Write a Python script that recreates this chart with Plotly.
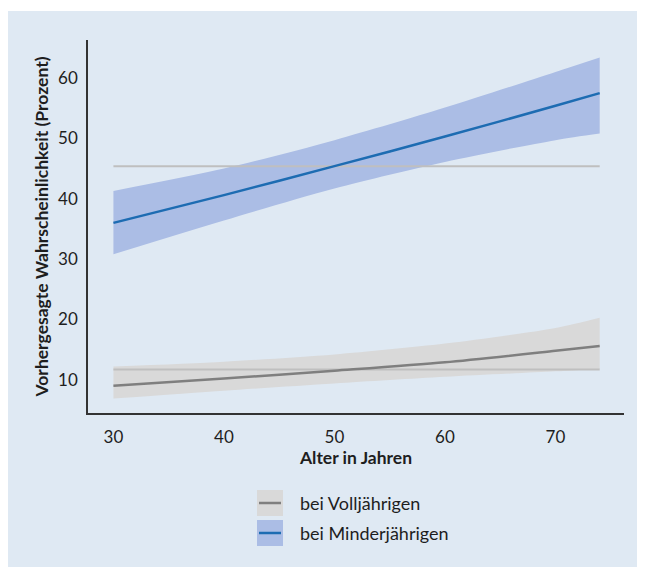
import plotly.graph_objects as go

# ---- data ----
age = [30, 40, 50, 60, 70, 74]

minor_fit = [36.0, 40.6, 45.4, 50.3, 55.4, 57.5]
minor_upper = [41.3, 45.0, 49.7, 55.1, 61.0, 63.4]
minor_lower = [30.8, 36.4, 41.7, 46.1, 49.7, 50.8]

adult_fit = [9.0, 10.2, 11.5, 12.9, 14.8, 15.6]
adult_upper = [12.2, 13.0, 14.2, 16.0, 18.6, 20.3]
adult_lower = [6.9, 8.2, 9.4, 10.5, 11.4, 11.8]

ref_minor = 45.4
ref_adult = 11.7

x_ticks = [30, 40, 50, 60, 70]
y_ticks = [10, 20, 30, 40, 50, 60]

legend_labels = ["bei Volljährigen", "bei Minderjährigen"]

# ---- styles ----
BG = "#dfe9f3"
BLUE_BAND = "#abbde5"
BLUE_LINE = "#1d6cb2"
GREY_BAND = "#d9d9d9"
GREY_LINE = "#7f7f7f"
REF_LINE = "#bfbfbf"
FONT = "Lato"
TXT = "#1e1e1e"

# page body has an 8px margin; size the figure so it fits the 645x571 window
OFF = 8
W, H = 645 - OFF, 571 - OFF
ML, MT = 88 - OFF, 40 - OFF
MR = W - (624 - OFF)
MB = H - (413 - OFF)
PW, PH = W - ML - MR, H - MT - MB


def px_x(p):
    return (p - OFF - ML) / PW


def px_y(p):
    return (H + OFF - MB - p) / PH


fig = go.Figure()

spl = dict(shape="spline", smoothing=0.8)

for lo, hi, col in [(adult_lower, adult_upper, GREY_BAND), (minor_lower, minor_upper, BLUE_BAND)]:
    fig.add_trace(go.Scatter(x=age, y=lo, mode="lines", line=dict(width=0, **spl),
                             showlegend=False, hoverinfo="skip"))
    fig.add_trace(go.Scatter(x=age, y=hi, mode="lines", line=dict(width=0, **spl),
                             fill="tonexty", fillcolor=col, showlegend=False, hoverinfo="skip"))

for ref in [ref_minor, ref_adult]:
    fig.add_trace(go.Scatter(x=[age[0], age[-1]], y=[ref, ref], mode="lines",
                             line=dict(color=REF_LINE, width=2), showlegend=False, hoverinfo="skip"))

fig.add_trace(go.Scatter(x=age, y=adult_fit, mode="lines", line=dict(color=GREY_LINE, width=2.5, **spl),
                         name=legend_labels[0], showlegend=False))
fig.add_trace(go.Scatter(x=age, y=minor_fit, mode="lines", line=dict(color=BLUE_LINE, width=2.5, **spl),
                         name=legend_labels[1], showlegend=False))

shapes = [
    # light blue panel
    dict(type="rect", xref="paper", yref="paper", layer="below",
         x0=px_x(7), x1=px_x(638), y0=px_y(567), y1=px_y(11),
         fillcolor=BG, line=dict(width=0)),
]
annotations = []
legend_items = [(GREY_BAND, GREY_LINE, 490, legend_labels[0]), (BLUE_BAND, BLUE_LINE, 520, legend_labels[1])]
for band, line, top, label in legend_items:
    shapes.append(dict(type="rect", xref="paper", yref="paper",
                       x0=px_x(257), x1=px_x(283), y0=px_y(top + 26), y1=px_y(top),
                       fillcolor=band, line=dict(width=0)))
    shapes.append(dict(type="line", xref="paper", yref="paper",
                       x0=px_x(259), x1=px_x(281), y0=px_y(top + 13), y1=px_y(top + 13),
                       line=dict(color=line, width=2.5)))
    annotations.append(dict(text=label, xref="paper", yref="paper", x=px_x(298), y=px_y(top + 13),
                            xanchor="left", yanchor="middle", showarrow=False,
                            font=dict(family=FONT, size=18, color=TXT)))

fig.update_layout(
    width=W, height=H,
    margin=dict(l=ML, r=MR, t=MT, b=MB),
    paper_bgcolor="white",
    plot_bgcolor=BG,
    font=dict(family=FONT, size=17, color=TXT),
    shapes=shapes,
    annotations=annotations,
    showlegend=False,
)

fig.update_xaxes(range=[27.7, 76.2], tickvals=x_ticks, showgrid=False, zeroline=False,
                 showline=True, linecolor="#333333", linewidth=1.5, ticks="",
                 ticklabelstandoff=8, tickfont=dict(size=17),
                 title=dict(text="<b>Alter in Jahren</b>", font=dict(family=FONT, size=17.5), standoff=6))
fig.update_yaxes(range=[4.5, 66.3], tickvals=y_ticks, showgrid=False, zeroline=False,
                 showline=True, linecolor="#333333", linewidth=1.5, ticks="",
                 ticklabelstandoff=5, tickfont=dict(size=17),
                 title=dict(text="<b>Vorhergesagte Wahrscheinlichkeit (Prozent)</b>",
                            font=dict(family=FONT, size=17.5), standoff=5))

fig.write_html("out.html")
